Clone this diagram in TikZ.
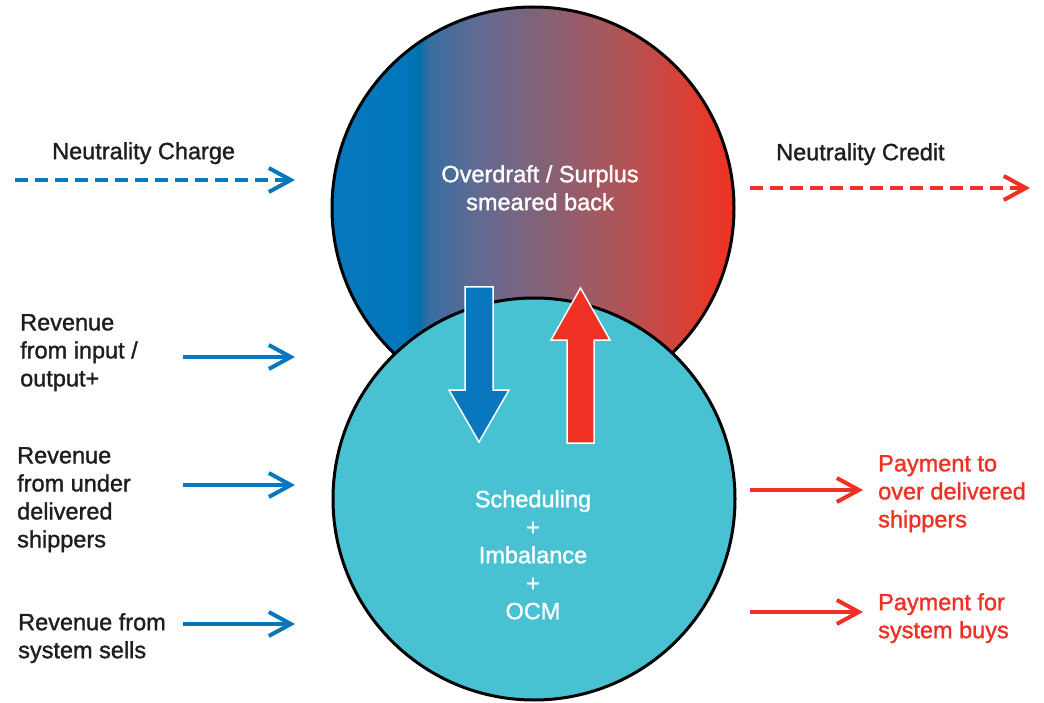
\documentclass[tikz,border=0pt]{standalone}
\usepackage{fontspec}
\setmainfont{Liberation Sans}
\newfontfamily\medfont[FakeBold=1.3]{Liberation Sans}
\usetikzlibrary{arrows.meta}
\definecolor{cblue}{RGB}{8,119,189}
\definecolor{cred}{RGB}{238,49,36}
\definecolor{ccyan}{RGB}{72,194,210}
\definecolor{ctext}{RGB}{30,30,30}
\definecolor{g1}{RGB}{0,118,188}
\definecolor{g2}{RGB}{0,112,168}
\definecolor{g3}{RGB}{55,110,162}
\definecolor{g4}{RGB}{100,106,145}
\definecolor{g5}{RGB}{130,98,120}
\definecolor{g6}{RGB}{175,85,88}
\definecolor{g7}{RGB}{225,60,45}
\pgfdeclarehorizontalshading{topgrad}{100bp}{color(0bp)=(cblue); color(25bp)=(cblue); color(34bp)=(g1); color(35.8bp)=(g2); color(37bp)=(g3); color(43.4bp)=(g4); color(50.8bp)=(g5); color(60.7bp)=(g6); color(70.6bp)=(g7); color(75bp)=(cred); color(100bp)=(cred)}
\tikzset{
  lbl/.style={font=\medfont\fontsize{23.5}{28}\selectfont, text=ctext, inner sep=0pt, align=left, anchor=north west},
  wlbl/.style={font=\medfont\fontsize{23.5}{28}\selectfont, text=white, inner sep=0pt, align=center, anchor=north},
  flow/.style={line width=4pt, -{Straight Barb[length=22pt,width=24pt]}},
  dflow/.style={flow, dash pattern=on 13pt off 7pt},
  blockarrow/.style={draw=white, line width=1.5pt},
  ring/.style={circle, minimum size=402pt, inner sep=0pt, draw=black, line width=3pt}
}
\begin{document}
\begin{tikzpicture}[x=1pt,y=-1pt]
\useasboundingbox (0,0) rectangle (1044,703);
% circles
\node[ring, shade, shading=topgrad] (top) at (533,208) {};
\node[ring, fill=ccyan] (bot) at (534,499) {};
% block arrows
\draw[blockarrow, fill=cblue] (465,287) -- (493,287) -- (493,390) -- (509,390) -- (479,442) -- (449,390) -- (465,390) -- cycle;
\draw[blockarrow, fill=cred] (567,443) -- (594,443) -- (594,340) -- (610,340) -- (580.5,288) -- (551,340) -- (567,340) -- cycle;
% circle texts
\node[wlbl] (osb) at (540,165) {Overdraft / Surplus\\smeared back};
\node[wlbl] (sio) at (533,490) {Scheduling\\+\\Imbalance\\+\\OCM};
% side labels
\node[lbl] (nch) at (52,142) {Neutrality Charge};
\node[lbl] (ncr) at (776,143) {Neutrality Credit};
\node[lbl] (rin) at (20,314) {Revenue\\from input /\\output+};
\node[lbl] (rud) at (17,447) {Revenue\\from under\\delivered\\shippers};
\node[lbl] (rss) at (18,613) {Revenue from\\system sells};
\node[lbl, text=cred] (pod) at (878,455) {Payment to\\over delivered\\shippers};
\node[lbl, text=cred] (psb) at (878,593) {Payment for\\system buys};
% arrow end points
\coordinate (ncS) at (15,180);   \coordinate (ncE) at (295,180);
\coordinate (crS) at (750,188);  \coordinate (crE) at (1030,188);
\coordinate (rinS) at (183,357); \coordinate (rinE) at (295,357);
\coordinate (rudS) at (183,485); \coordinate (rudE) at (295,485);
\coordinate (rssS) at (183,624); \coordinate (rssE) at (295,624);
\coordinate (podS) at (750,490); \coordinate (podE) at (863,490);
\coordinate (psbS) at (750,612); \coordinate (psbE) at (863,612);
% connectors
\draw[dflow, cblue] (ncS) -- (ncE);
\draw[dflow, cred] (crS) -- (crE);
\draw[flow, cblue] (rinS) -- (rinE);
\draw[flow, cblue] (rudS) -- (rudE);
\draw[flow, cblue] (rssS) -- (rssE);
\draw[flow, cred] (podS) -- (podE);
\draw[flow, cred] (psbS) -- (psbE);
\end{tikzpicture}
\end{document}
